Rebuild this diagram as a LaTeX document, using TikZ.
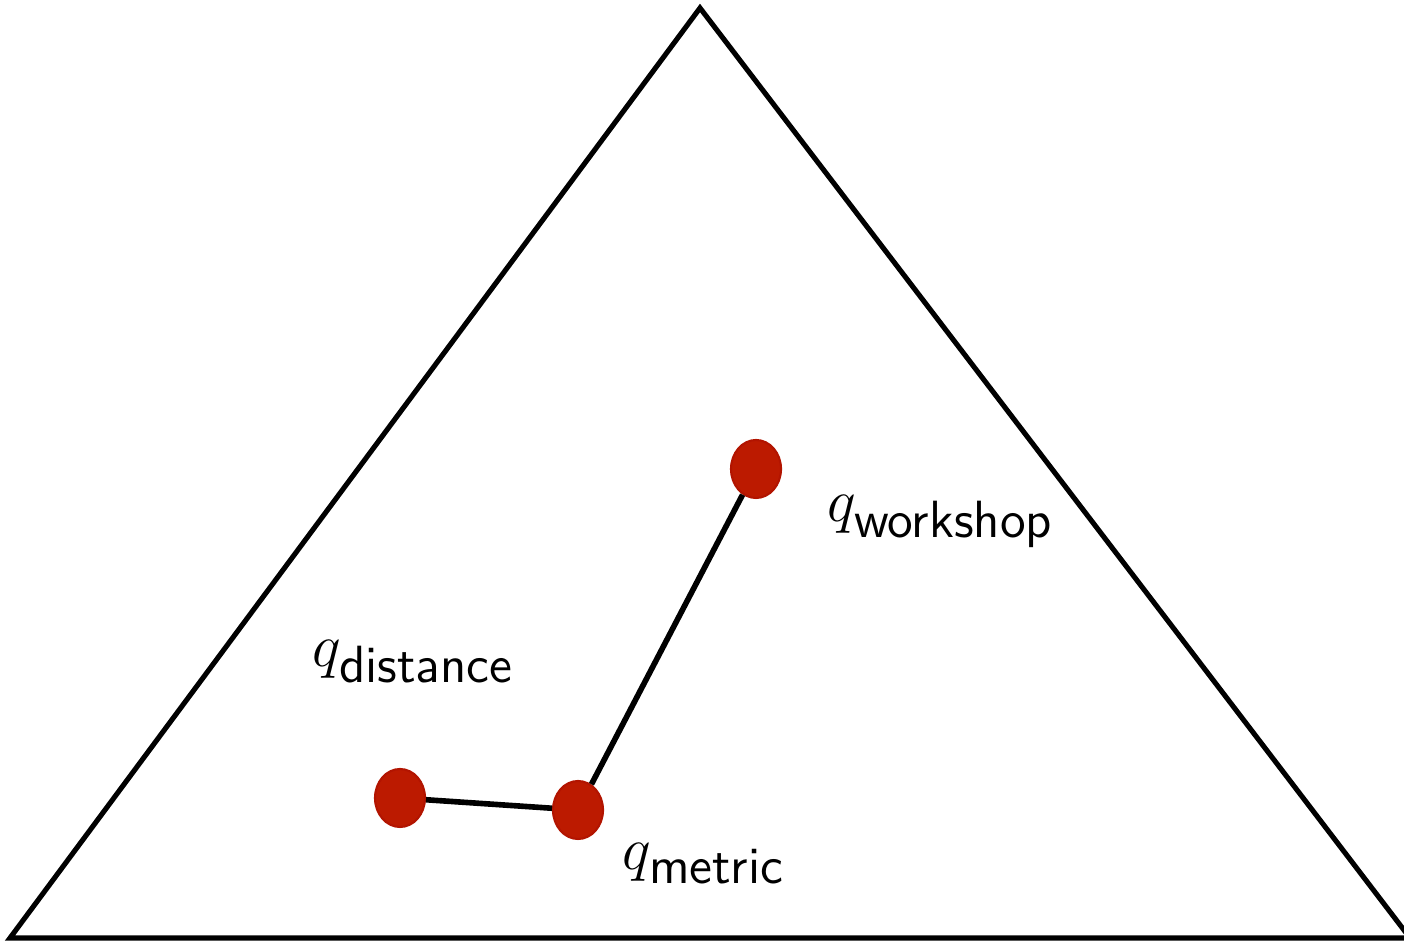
\documentclass[tikz,border=0pt]{standalone}
\usepackage{amstext}
\usetikzlibrary{shapes.geometric}
\DeclareMathSizes{19}{19}{14.9}{11}
\definecolor{dotred}{RGB}{188,26,0}
\definecolor{dotrim}{RGB}{178,20,0}
\begin{document}
\begin{tikzpicture}[
	dot/.style={ellipse, draw=dotrim, fill=dotred, line width=0.6pt, minimum width=0.5cm, minimum height=0.58cm, inner sep=0pt},
	lab/.style={anchor=base west, inner sep=0pt, font=\fontsize{19}{23}\selectfont}]
	\useasboundingbox (0, 0) rectangle (14.04, 9.42);
	\clip (0, 0) rectangle (14.04, 9.42);
	\draw[line width=1.45pt, line join=miter] (0.10, 0.04)--(7.00, 9.34)--(14.10, 0.04)--cycle;
	\node[dot] (d) at (4.00, 1.44) {};
	\node[dot] (m) at (5.78, 1.32) {};
	\node[dot] (w) at (7.56, 4.73) {};
	\draw[line width=1.6pt] (d)--(m);
	\draw[line width=1.6pt] (m)--(w);
	\node[lab] (lw) at (8.27, 4.20) {$q_{\textsf{workshop}}$};
	\node[lab] (ld) at (3.12, 2.75) {$q_{\textsf{distance}}$};
	\node[lab] (lm) at (6.22, 0.72) {$q_{\textsf{metric}}$};
\end{tikzpicture}
\end{document}
